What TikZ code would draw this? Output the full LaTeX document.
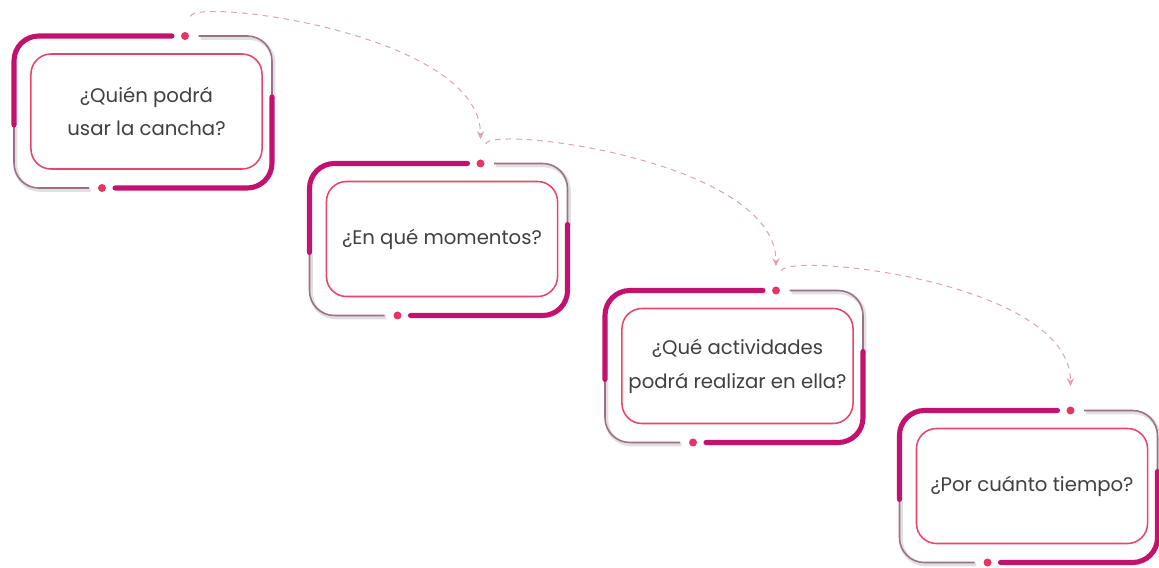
\documentclass[tikz,border=0pt]{standalone}
\usepackage{fontspec}
\setmainfont{Poppins}
\usetikzlibrary{arrows.meta, positioning, calc}
\definecolor{framemag}{HTML}{C2126E}
\definecolor{boxred}{HTML}{E8456B}
\definecolor{dotred}{HTML}{E43566}
\definecolor{framegray}{HTML}{9C7088}
\definecolor{linkpink}{HTML}{E0A0B4}
\tikzset{
    question/.style={rectangle, draw=boxred, line width=1.1pt, rounded corners=0.5cm, minimum width=5.775cm, minimum height=2.875cm, align=center, font=\fontsize{14}{24}\selectfont, text=black!75},
    thickarc/.style={draw=framemag, line width=3.6pt, line cap=round, rounded corners=0.62cm},
    thinarc/.style={draw=framegray, line width=1.1pt, rounded corners=0.62cm},
    thinshadow/.style={draw=black!12, line width=2.6pt, rounded corners=0.62cm},
    dot/.style={circle, fill=dotred, inner sep=0pt, minimum size=0.2cm},
    link/.style={draw=linkpink, dash pattern=on 4pt off 3.5pt, line width=0.7pt, -{Stealth[length=2mm, width=1.8mm]}, shorten <=0.4cm, shorten >=0.5cm},
}
% outer frame round a question box, with its two dots
\newcommand{\qframe}[1]{%
  \begin{scope}[shift={(#1.center)}]
    \path[thinshadow] (54,73.5) -- (127,73.5) -- (127,12.5);
    \path[thinshadow] (-56,-78.5) -- (-131,-78.5) -- (-131,-15.5);
    \path[thinarc] (52,75.5) -- (125.5,75.5) -- (125.5,14.5);
    \path[thinarc] (-57.5,-76.5) -- (-132.5,-76.5) -- (-132.5,-13.5);
    \path[thickarc] (-132.5,-13.5) -- (-132.5,75.5) -- (25.5,75.5);
    \path[thickarc] (125.5,14.5) -- (125.5,-76.5) -- (-31.5,-76.5);
    \node[dot] (#1t) at (38.5,75.5) {};
    \node[dot] (#1b) at (-44.5,-76.5) {};
  \end{scope}}
\begin{document}
\begin{tikzpicture}[x=0.025cm, y=0.025cm]
\useasboundingbox[fill=white] (0,0) rectangle (1159,567);

% Question boxes
\node[question] (q1) at (146.5,455.5) {¿Quién podrá\\usar la cancha?};
\node[question] (q2) at (442,328) {¿En qué momentos?};
\node[question] (q3) at (737.5,201) {¿Qué actividades\\podrá realizar en ella?};
\node[question] (q4) at (1032,81) {¿Por cuánto tiempo?};

% Frames
\qframe{q1}
\qframe{q2}
\qframe{q3}
\qframe{q4}

% Dashed links (top dot -> next top dot)
\draw[link] (q1t) .. controls +(75:40) and +(90:130) .. (q2t);
\draw[link] (q2t) .. controls +(75:40) and +(90:130) .. (q3t);
\draw[link] (q3t) .. controls +(75:40) and +(90:130) .. (q4t);

\end{tikzpicture}
\end{document}
